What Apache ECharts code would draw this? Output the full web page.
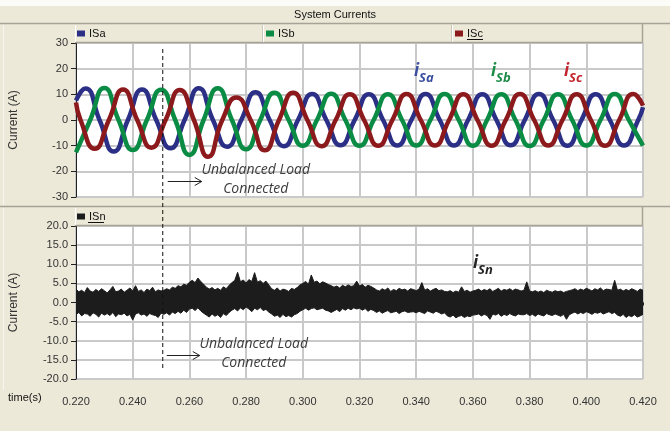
<!DOCTYPE html>
<html>
<head>
<meta charset="utf-8">
<script src="https://cdn.jsdelivr.net/npm/echarts@6.0.0/dist/echarts.min.js"></script>
<style>
html, body { margin: 0; padding: 0; background: #ECE9D8; }
#main { width: 670px; height: 431px; }
</style>
</head>
<body>
<div id="main"></div>
<script>
// phase currents: extrema and zero crossings
var saTime = [0.2200, 0.2233, 0.2283, 0.2333, 0.2383, 0.2433, 0.2483, 0.2533, 0.2583, 0.2633, 0.2683, 0.2733, 0.2783, 0.2833, 0.2883, 0.2933, 0.2983, 0.3033, 0.3083, 0.3133, 0.3183, 0.3233, 0.3283, 0.3333, 0.3383, 0.3433, 0.3483, 0.3533, 0.3583, 0.3633, 0.3683, 0.3733, 0.3783, 0.3833, 0.3883, 0.3933, 0.3983, 0.4033, 0.4083, 0.4133, 0.4183, 0.4200];
var saVal = [7.6, 12.3, 0, -12.3, 0, 11.9, 0, -11.0, 0, 12.4, 0, -10.4, 0, 10.8, 0, -10.2, 0, 10.1, 0, -9.8, 0, 10.0, 0, -9.9, 0, 10.1, 0, -9.9, 0, 10.0, 0, -9.8, 0, 10.1, 0, -10.0, 0, 10.0, 0, -9.9, 0, 5.0];

var sbTime = [0.220, 0.225, 0.230, 0.235, 0.240, 0.245, 0.250, 0.255, 0.260, 0.265, 0.270, 0.275, 0.280, 0.285, 0.290, 0.295, 0.300, 0.305, 0.310, 0.315, 0.320, 0.325, 0.330, 0.335, 0.340, 0.345, 0.350, 0.355, 0.360, 0.365, 0.370, 0.375, 0.380, 0.385, 0.390, 0.395, 0.400, 0.405, 0.410, 0.415, 0.420];
var sbVal = [-12.6, 0, 12.5, 0, -11.7, 0, 11.8, 0, -13.6, 0, 12.4, 0, -11.4, 0, 10.6, 0, -10.0, 0, 10.2, 0, -10.0, 0, 10.0, 0, -9.9, 0, 10.1, 0, -10.0, 0, 10.0, 0, -10.1, 0, 10.0, 0, -9.9, 0, 10.1, 0, -10.0];

var scTime = [0.2200, 0.2216, 0.2266, 0.2316, 0.2366, 0.2416, 0.2466, 0.2516, 0.2566, 0.2616, 0.2666, 0.2716, 0.2766, 0.2816, 0.2866, 0.2916, 0.2966, 0.3016, 0.3066, 0.3116, 0.3166, 0.3216, 0.3266, 0.3316, 0.3366, 0.3416, 0.3466, 0.3516, 0.3566, 0.3616, 0.3666, 0.3716, 0.3766, 0.3816, 0.3866, 0.3916, 0.3966, 0.4016, 0.4066, 0.4116, 0.4166, 0.4200];
var scVal = [6.8, 0, -11.2, 0, 11.9, 0, -10.8, 0, 11.7, 0, -14.3, 0, 8.8, 0, -11.8, 0, 10.6, 0, -10.2, 0, 10.0, 0, -10.0, 0, 10.1, 0, -9.9, 0, 10.0, 0, -10.0, 0, 10.1, 0, -9.9, 0, 10.0, 0, -10.0, 0, 10.1, 5.6];

// neutral current: upper / lower edge of the noise band, one value per ms from 0.220 s
var snStart = 0.220;
var snStep = 0.001;
var snHi = [3.5,2.8,3.2,2.6,3.9,3.0,2.7,3.4,2.9,3.6, 3.1,2.5,3.3,4.2,2.8,3.0,3.5,2.7,3.2,3.8, 3.0,4.4,2.9,3.3,2.6,3.5,3.1,4.0,2.8,3.3, 3.0,
	3.2,3.6,3.3,4.0,3.7,4.4,4.1,4.8,4.5,5.3,
	5.8,5.2,6.4,5.5,4.8,
	4.0,3.5,3.9,3.3,3.7,3.2,4.1,3.6,
	4.5,5.2,5.8,7.9,5.4,5.9,5.1,6.0,5.5,7.8,5.3,5.7,5.0,5.6,4.6,
	3.6,3.2,3.8,3.0,3.5,3.3,2.9,3.7,3.4,3.9,
	4.6,5.0,5.5,4.8,7.2,5.3,5.6,4.9,5.4,5.1,4.7,4.4,
	4.0,4.3,3.8,4.5,4.1,4.6,4.2,4.4,5.6,4.3,4.7,4.0,4.5,4.2,3.8,
	3.3,3.0,3.6,3.2,3.8,2.9,3.4,3.1,3.7,3.3,3.5,3.0,3.6,
	3.4,3.1,3.5,5.2,3.2,3.6,3.0,3.4,3.7,3.1,3.3,2.9,
	2.8,3.1,2.6,3.0,2.7,4.1,2.9,3.2,2.7,3.0,
	3.2,3.5,3.0,3.4,3.1,3.6,2.9,3.3,3.7,3.0,3.4,3.2,3.6,3.1,3.5,3.3,3.0,
	3.2,5.4,3.0,2.8,3.1,2.7,3.0,2.6,3.2,2.9,2.7,3.1,2.8,3.0,2.6,2.9,3.1,
	3.3,3.6,3.1,3.5,3.2,3.7,3.4,3.0,3.6,3.3,3.8,3.1,3.5,3.4,3.2,5.8,
	3.2,3.5,3.0,3.4,3.1,3.6,3.3,2.9,3.5,3.2];
var snLo = [-3.2,-2.6,-3.5,-2.9,-3.0,-3.6,-2.7,-3.1,-3.8,-2.8, -3.3,-2.9,-3.4,-2.6,-3.7,-3.0,-3.2,-2.8,-3.5,-3.1, -4.6,-3.0,-2.7,-3.3,-3.0,-3.6,-2.9,-3.2,-3.4,-3.9, -2.8,
	-3.1,-2.7,-3.3,-2.5,-2.9,-2.3,-2.8,-2.0,-2.6,-1.7,
	-1.5,-2.1,-1.4,-2.2,-2.8,
	-3.3,-3.8,-3.0,-3.6,-3.2,-3.9,-2.9,-3.4,
	-2.6,-2.0,-1.6,-2.2,-1.4,-1.9,-1.2,-1.7,-2.4,-1.5,-1.9,-1.3,-2.1,-1.8,-2.5,
	-3.0,-3.6,-3.3,-3.9,-3.1,-3.7,-3.4,-3.8,-3.2,-2.9,
	-2.3,-1.9,-1.5,-2.0,-1.6,-1.4,-1.9,-1.7,-1.5,-2.0,-2.2,-2.6,
	-2.2,-1.8,-2.4,-1.6,-2.0,-1.5,-1.9,-1.4,-1.7,-1.5,-2.0,-1.6,-2.3,-1.8,-2.1,
	-2.6,-2.2,-2.8,-2.4,-2.1,-2.7,-2.5,-2.3,-2.9,-2.4,-2.2,-2.6,-2.5,
	-2.4,-2.7,-2.3,-2.6,-2.9,-2.2,-2.5,-2.8,-2.3,-2.6,-3.0,-2.7,
	-3.5,-3.8,-3.3,-4.0,-3.6,-3.4,-3.9,-3.5,-3.7,-3.3,
	-3.2,-3.0,-3.5,-3.1,-3.4,-4.4,-3.0,-3.3,-2.9,-3.6,-3.1,-3.4,-2.9,-3.3,-3.5,-3.0,-3.2,
	-3.2,-2.9,-3.4,-3.1,-3.6,-3.0,-3.3,-3.5,-2.9,-3.2,-3.4,-3.0,-3.3,-3.6,-3.1,-4.4,-3.2,
	-2.8,-2.5,-3.0,-2.6,-2.9,-2.4,-2.7,-3.1,-2.6,-2.8,-2.5,-3.0,-2.7,-2.4,-2.9,-2.6,
	-3.3,-3.6,-3.1,-3.9,-3.4,-3.7,-3.2,-3.8,-3.5,-3.1];

var timeMin = 0.22, timeMax = 0.42, timeStep = 0.02;
var loadTime = 0.2506; // unbalanced load switched in

var FONT = 'Liberation Sans';
var BEIGE = '#ECE9D8';
var EDGE = '#a7a497';

var pairs = function(ts, vs) {
	var out = [];
	for (var i = 0; i < vs.length; i++) out.push([ts[i], vs[i]]);
	return out;
};
var snPairs = function(vs) {
	var out = [];
	for (var i = 0; i < vs.length; i++) out.push([+(snStart + i * snStep).toFixed(3), vs[i]]);
	return out;
};

var xAxisBase = function(grid, withLabels) {
	return {
		type: 'value', gridIndex: grid, min: timeMin, max: timeMax, interval: timeStep,
		offset: withLabels ? 11 : 0,
		axisLine: { show: withLabels, lineStyle: { color: '#222', width: 1 } },
		axisTick: { show: withLabels, length: 3, lineStyle: { color: '#222' } },
		axisLabel: { show: withLabels, margin: 6, fontFamily: FONT, fontSize: 11, color: '#333',
			formatter: function(v) { return v.toFixed(3); } },
		splitLine: { show: true, lineStyle: { color: '#c9c9c9', width: 2 } }
	};
};
var yAxisBase = function(grid, lo, hi, step, digits) {
	return {
		type: 'value', gridIndex: grid, min: lo, max: hi, interval: step,
		name: 'Current (A)', nameLocation: 'middle', nameGap: 56, nameRotate: 90,
		nameTextStyle: { fontFamily: FONT, fontSize: 12, color: '#333' },
		axisLine: { show: true, lineStyle: { color: '#222', width: 1 } },
		axisTick: { show: true, length: 5, lineStyle: { color: '#222' } },
		axisLabel: { margin: 8, fontFamily: FONT, fontSize: 11, color: '#333',
			formatter: function(v) { return v.toFixed(digits); } },
		splitLine: { show: true, lineStyle: { color: '#c9c9c9', width: 2 } }
	};
};
var phase = function(name, ts, vs, color) {
	return {
		name: name, type: 'line', xAxisIndex: 0, yAxisIndex: 0,
		data: pairs(ts, vs), smooth: 0.55, showSymbol: false, symbol: 'none',
		lineStyle: { color: color, width: 4.5 }, itemStyle: { color: color },
		silent: true
	};
};
var legendItem = function(name, left, top) {
	return {
		data: [name], left: left, top: top, icon: 'rect', itemWidth: 8, itemHeight: 6, itemGap: 4,
		selectedMode: false, padding: 0,
		textStyle: { fontFamily: FONT, fontSize: 11, color: '#111', padding: [0, 0, 0, -1] }
	};
};

var chart = echarts.init(document.getElementById('main'));
chart.setOption({
	animation: false,
	backgroundColor: BEIGE,
	grid: [
		{ left: 75, right: 27, top: 43, height: 154, show: true, backgroundColor: '#fff', borderWidth: 0 },
		{ left: 75, right: 27, top: 226, height: 153, show: true, backgroundColor: '#fff', borderWidth: 0 }
	],
	legend: [
		legendItem('ISa', 77, 28),
		legendItem('ISb', 266, 28),
		legendItem('ISc', 455, 28),
		legendItem('ISn', 77, 211)
	],
	xAxis: [xAxisBase(0, false), xAxisBase(1, true)],
	yAxis: [yAxisBase(0, -30, 30, 10, 0), yAxisBase(1, -20, 20, 5, 1)],
	series: [
		phase('ISa', saTime, saVal, '#2b2f86'),
		phase('ISb', sbTime, sbVal, '#0a8c44'),
		phase('ISc', scTime, scVal, '#8c1a1c'),
		{
			name: 'ISn', type: 'line', xAxisIndex: 1, yAxisIndex: 1, data: snPairs(snHi),
			showSymbol: false, symbol: 'none', silent: true,
			lineStyle: { color: '#1c1c1c', width: 1 }, itemStyle: { color: '#1c1c1c' },
			areaStyle: { color: '#1c1c1c', opacity: 1 }
		},
		{
			name: 'ISn', type: 'line', xAxisIndex: 1, yAxisIndex: 1, data: snPairs(snLo),
			showSymbol: false, symbol: 'none', silent: true,
			lineStyle: { color: '#1c1c1c', width: 1 }, itemStyle: { color: '#1c1c1c' },
			areaStyle: { color: '#1c1c1c', opacity: 1 }
		}
	]
});

// frame, titles and annotations, placed after the axes exist
var loadX = chart.convertToPixel({ xAxisIndex: 0 }, loadTime);
var topY = chart.convertToPixel({ yAxisIndex: 0 }, 30);
var botY = chart.convertToPixel({ yAxisIndex: 1 }, -20);

var hline = function(x1, x2, y, color, w) {
	return { type: 'line', z: 1, silent: true, shape: { x1: x1, y1: y, x2: x2, y2: y }, style: { stroke: color, lineWidth: w || 1 } };
};
var vline = function(x, y1, y2, color, w) {
	return { type: 'line', z: 1, silent: true, shape: { x1: x, y1: y1, x2: x, y2: y2 }, style: { stroke: color, lineWidth: w || 1 } };
};
var txt = function(x, y, s, size, color, extra) {
	var st = { text: s, x: x, y: y, fill: color, fontFamily: FONT, fontSize: size, textVerticalAlign: 'middle' };
	for (var k in extra) st[k] = extra[k];
	return { type: 'text', z: 20, silent: true, style: st };
};
var italicTxt = function(x, y, s) {
	return txt(x, y, s, 14, '#3c3c3c', { fontFamily: 'Open Sans', fontStyle: 'italic', textAlign: 'center' });
};
var arrow = function(x1, x2, y) {
	return {
		type: 'group', z: 20, silent: true,
		children: [
			{ type: 'line', shape: { x1: x1, y1: y, x2: x2, y2: y }, style: { stroke: '#222', lineWidth: 1 } },
			{ type: 'polyline', shape: { points: [[x2 - 7, y - 4], [x2, y], [x2 - 7, y + 4]] }, style: { stroke: '#222', lineWidth: 1, fill: null } }
		]
	};
};
var subLabel = function(x, y, sub, color) {
	return {
		type: 'group', z: 20, silent: true,
		children: [
			{ type: 'text', style: { text: 'i', x: x, y: y, fill: color, fontFamily: 'Open Sans', fontWeight: 'bold', fontStyle: 'italic', fontSize: 17, textVerticalAlign: 'bottom' } },
			{ type: 'text', style: { text: sub, x: x + 5, y: y + 5, fill: color, fontFamily: 'Open Sans', fontWeight: 'bold', fontStyle: 'italic', fontSize: 13, textVerticalAlign: 'bottom' } }
		]
	};
};

var elements = [
	{ type: 'rect', z: 0, silent: true, shape: { x: 0, y: 0, width: 670, height: 6 }, style: { fill: '#fbfbf8' } },
	hline(0, 670, 23.5, EDGE, 1.5),
	txt(335, 15, 'System Currents', 11, '#111', { textAlign: 'center' }),
	// legend strips
	hline(75, 643, 42.5, EDGE, 1.5),
	vline(642.5, 24, 43, EDGE, 1.5),
	vline(262.5, 25, 42, '#c9c6b8'), vline(263.5, 25, 42, '#ffffff'),
	vline(451.5, 25, 42, '#c9c6b8'), vline(452.5, 25, 42, '#ffffff'),
	vline(75.5, 25, 42, '#ffffff'),
	hline(0, 670, 206.5, EDGE, 1.5),
	hline(75, 643, 225.5, EDGE, 1.5),
	vline(642.5, 207, 226, EDGE, 1.5),
	vline(75.5, 208, 225, '#ffffff'),
	vline(3.5, 25, 205, '#f7f6ef'), vline(3.5, 208, 390, '#f7f6ef'),
	// underlines for highlighted legend names
	hline(467, 483, 39.5, '#111', 1),
	hline(88, 104, 222.5, '#111', 1),
	txt(8, 398, 'time(s)', 11, '#111'),
	// load switching instant
	{ type: 'line', z: 15, silent: true, shape: { x1: loadX, y1: topY + 6, x2: loadX, y2: botY - 8 }, style: { stroke: '#111', lineWidth: 1, lineDash: [4, 3] } },
	arrow(loadX + 5, loadX + 39, 181.5),
	italicTxt(loadX + 93, 170, 'Unbalanced Load'),
	italicTxt(loadX + 93, 189, 'Connected'),
	arrow(loadX + 4, loadX + 37, 355.5),
	italicTxt(loadX + 91, 344, 'Unbalanced Load'),
	italicTxt(loadX + 91, 363, 'Connected'),
	subLabel(414, 80, 'Sa', '#3b4ea0'),
	subLabel(491, 80, 'Sb', '#1d8c49'),
	subLabel(564, 80, 'Sc', '#c2232d'),
	subLabel(473, 272, 'Sn', '#222222')
];
chart.setOption({ graphic: { elements: elements } });
</script>
</body>
</html>
